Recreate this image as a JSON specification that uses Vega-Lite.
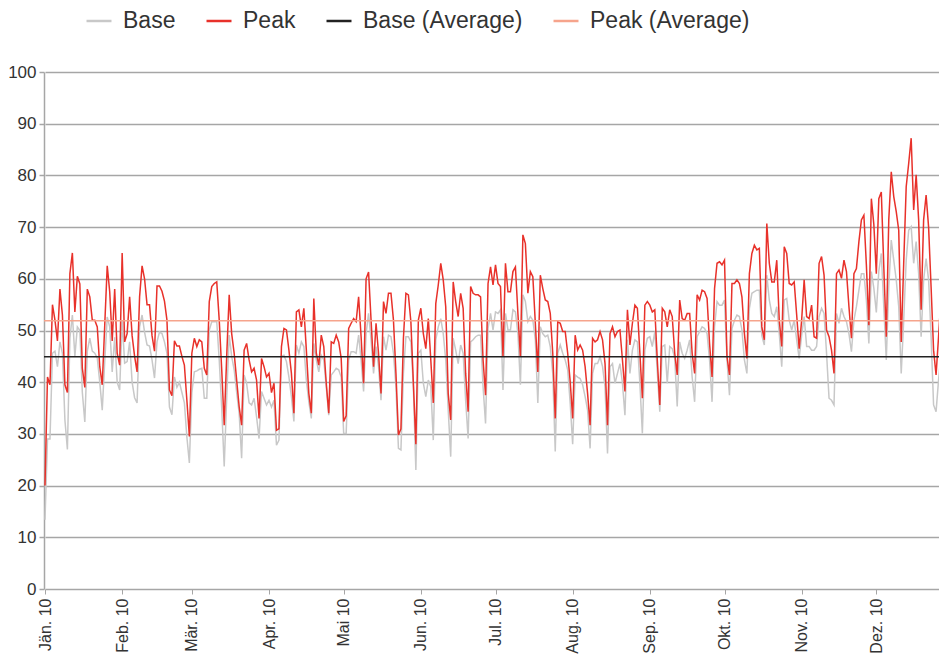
{
"$schema": "https://vega.github.io/schema/vega-lite/v6.json",
"autosize": "none",
"width": 895,
"height": 517,
"padding": {"left": 44, "top": 72, "right": 0, "bottom": 73},
"background": "white",
"config": {"view": {"stroke": null}, "font": "Liberation Sans"},
"data": {"values": [
{"date":"2010-01-01","Base":13.4,"Peak":20},{"date":"2010-01-02","Base":29,"Peak":41},{"date":"2010-01-03","Base":29,"Peak":39.5},{"date":"2010-01-04","Base":45.6,"Peak":55},{"date":"2010-01-05","Base":46,"Peak":52},{"date":"2010-01-06","Base":43,"Peak":48},{"date":"2010-01-07","Base":47.8,"Peak":58},{"date":"2010-01-08","Base":45.6,"Peak":53},{"date":"2010-01-09","Base":32.7,"Peak":39.5},{"date":"2010-01-10","Base":27,"Peak":38},
{"date":"2010-01-11","Base":48.5,"Peak":61},{"date":"2010-01-12","Base":53,"Peak":65},{"date":"2010-01-13","Base":45,"Peak":53.6},{"date":"2010-01-14","Base":50.7,"Peak":60.5},{"date":"2010-01-15","Base":50,"Peak":59},{"date":"2010-01-16","Base":38,"Peak":42.7},{"date":"2010-01-17","Base":32.3,"Peak":39},{"date":"2010-01-18","Base":46,"Peak":58},{"date":"2010-01-19","Base":48.5,"Peak":56.5},{"date":"2010-01-20","Base":46,"Peak":52},
{"date":"2010-01-21","Base":45.6,"Peak":52},{"date":"2010-01-22","Base":44.7,"Peak":50.7},{"date":"2010-01-23","Base":40,"Peak":43},{"date":"2010-01-24","Base":34.6,"Peak":39.5},{"date":"2010-01-25","Base":44,"Peak":51},{"date":"2010-01-26","Base":52.6,"Peak":62.5},{"date":"2010-01-27","Base":50.7,"Peak":57.5},{"date":"2010-01-28","Base":42,"Peak":48},{"date":"2010-01-29","Base":48.7,"Peak":58},{"date":"2010-01-30","Base":40,"Peak":45.6},{"date":"2010-01-31","Base":38.5,"Peak":43.3},
{"date":"2010-02-01","Base":52,"Peak":65},{"date":"2010-02-02","Base":43.7,"Peak":47.8},{"date":"2010-02-03","Base":44,"Peak":49.4},{"date":"2010-02-04","Base":47.8,"Peak":56.5},{"date":"2010-02-05","Base":40,"Peak":49},{"date":"2010-02-06","Base":37,"Peak":45},{"date":"2010-02-07","Base":36,"Peak":42},{"date":"2010-02-08","Base":50.7,"Peak":56.5},{"date":"2010-02-09","Base":53,"Peak":62.5},{"date":"2010-02-10","Base":49.7,"Peak":60},
{"date":"2010-02-11","Base":47.2,"Peak":55},{"date":"2010-02-12","Base":47,"Peak":55},{"date":"2010-02-13","Base":44.3,"Peak":49},{"date":"2010-02-14","Base":40.8,"Peak":46},{"date":"2010-02-15","Base":47.8,"Peak":58.6},{"date":"2010-02-16","Base":49.7,"Peak":58.6},{"date":"2010-02-17","Base":49.4,"Peak":57.6},{"date":"2010-02-18","Base":47.8,"Peak":55.7},{"date":"2010-02-19","Base":45.6,"Peak":52},{"date":"2010-02-20","Base":35.2,"Peak":38.5},
{"date":"2010-02-21","Base":33.7,"Peak":37.4},{"date":"2010-02-22","Base":41,"Peak":48},{"date":"2010-02-23","Base":39,"Peak":47},{"date":"2010-02-24","Base":40,"Peak":47},{"date":"2010-02-25","Base":38,"Peak":45},{"date":"2010-02-26","Base":36,"Peak":43.3},{"date":"2010-02-27","Base":29.4,"Peak":36.5},{"date":"2010-02-28","Base":24.4,"Peak":29.5},
{"date":"2010-03-01","Base":38,"Peak":45.6},{"date":"2010-03-02","Base":42,"Peak":48.5},{"date":"2010-03-03","Base":42.2,"Peak":46.9},{"date":"2010-03-04","Base":42.5,"Peak":48.2},{"date":"2010-03-05","Base":42.7,"Peak":47.8},{"date":"2010-03-06","Base":36.9,"Peak":42.7},{"date":"2010-03-07","Base":36.9,"Peak":41.4},{"date":"2010-03-08","Base":50.1,"Peak":55.6},{"date":"2010-03-09","Base":51.7,"Peak":58.5},{"date":"2010-03-10","Base":51.7,"Peak":59.1},
{"date":"2010-03-11","Base":51.7,"Peak":59.4},{"date":"2010-03-12","Base":44.3,"Peak":52},{"date":"2010-03-13","Base":35,"Peak":42.4},{"date":"2010-03-14","Base":23.7,"Peak":31.7},{"date":"2010-03-15","Base":37,"Peak":45},{"date":"2010-03-16","Base":49.1,"Peak":56.9},{"date":"2010-03-17","Base":45,"Peak":49.4},{"date":"2010-03-18","Base":42.4,"Peak":45.6},{"date":"2010-03-19","Base":38,"Peak":40.4},{"date":"2010-03-20","Base":34,"Peak":35.3},
{"date":"2010-03-21","Base":25.3,"Peak":31.7},{"date":"2010-03-22","Base":41.4,"Peak":46.2},{"date":"2010-03-23","Base":39.8,"Peak":47.5},{"date":"2010-03-24","Base":36,"Peak":44.3},{"date":"2010-03-25","Base":35.6,"Peak":42},{"date":"2010-03-26","Base":36.9,"Peak":42.7},{"date":"2010-03-27","Base":33.3,"Peak":40.4},{"date":"2010-03-28","Base":29.1,"Peak":33},{"date":"2010-03-29","Base":38.2,"Peak":44.6},{"date":"2010-03-30","Base":36.9,"Peak":43},{"date":"2010-03-31","Base":35.6,"Peak":41},
{"date":"2010-04-01","Base":36.5,"Peak":41.7},{"date":"2010-04-02","Base":35.2,"Peak":38},{"date":"2010-04-03","Base":36.5,"Peak":39.8},{"date":"2010-04-04","Base":27.8,"Peak":30.7},{"date":"2010-04-05","Base":28.8,"Peak":31},{"date":"2010-04-06","Base":45,"Peak":46.9},{"date":"2010-04-07","Base":45.2,"Peak":50.4},{"date":"2010-04-08","Base":44,"Peak":50.1},{"date":"2010-04-09","Base":41,"Peak":46.2},{"date":"2010-04-10","Base":37.2,"Peak":41.7},
{"date":"2010-04-11","Base":32.4,"Peak":34},{"date":"2010-04-12","Base":47.2,"Peak":53.6},{"date":"2010-04-13","Base":45.6,"Peak":54},{"date":"2010-04-14","Base":47.8,"Peak":50.7},{"date":"2010-04-15","Base":46.9,"Peak":54.3},{"date":"2010-04-16","Base":40.4,"Peak":46.2},{"date":"2010-04-17","Base":36.2,"Peak":37.8},{"date":"2010-04-18","Base":33,"Peak":34},{"date":"2010-04-19","Base":47.5,"Peak":56.2},{"date":"2010-04-20","Base":44.3,"Peak":45.6},
{"date":"2010-04-21","Base":42,"Peak":43.3},{"date":"2010-04-22","Base":45.2,"Peak":49.1},{"date":"2010-04-23","Base":44.3,"Peak":46.9},{"date":"2010-04-24","Base":39.1,"Peak":39.8},{"date":"2010-04-25","Base":33.6,"Peak":34},{"date":"2010-04-26","Base":41.4,"Peak":47.8},{"date":"2010-04-27","Base":42,"Peak":47.5},{"date":"2010-04-28","Base":42.7,"Peak":49.1},{"date":"2010-04-29","Base":42.4,"Peak":47.8},{"date":"2010-04-30","Base":41,"Peak":44.6},
{"date":"2010-05-01","Base":30.1,"Peak":32.4},{"date":"2010-05-02","Base":30.1,"Peak":33.5},{"date":"2010-05-03","Base":44.3,"Peak":50.4},{"date":"2010-05-04","Base":45.9,"Peak":51.4},{"date":"2010-05-05","Base":45.9,"Peak":52.3},{"date":"2010-05-06","Base":45.6,"Peak":51.7},{"date":"2010-05-07","Base":49.1,"Peak":56.5},{"date":"2010-05-08","Base":44.3,"Peak":48.8},{"date":"2010-05-09","Base":38.2,"Peak":39.8},{"date":"2010-05-10","Base":49.4,"Peak":60},
{"date":"2010-05-11","Base":53.3,"Peak":61.3},{"date":"2010-05-12","Base":48.2,"Peak":52},{"date":"2010-05-13","Base":41.7,"Peak":43},{"date":"2010-05-14","Base":46.9,"Peak":51.4},{"date":"2010-05-15","Base":43,"Peak":45.6},{"date":"2010-05-16","Base":36.5,"Peak":37.8},{"date":"2010-05-17","Base":48.8,"Peak":55.6},{"date":"2010-05-18","Base":46.2,"Peak":53.3},{"date":"2010-05-19","Base":49.1,"Peak":57.2},{"date":"2010-05-20","Base":48.8,"Peak":57.2},
{"date":"2010-05-21","Base":45.6,"Peak":52},{"date":"2010-05-22","Base":39.1,"Peak":41.7},{"date":"2010-05-23","Base":27.2,"Peak":29.8},{"date":"2010-05-24","Base":26.9,"Peak":31},{"date":"2010-05-25","Base":41.7,"Peak":48.5},{"date":"2010-05-26","Base":48.8,"Peak":57.2},{"date":"2010-05-27","Base":48.8,"Peak":56.9},{"date":"2010-05-28","Base":47.8,"Peak":51.7},{"date":"2010-05-29","Base":39.1,"Peak":39.8},{"date":"2010-05-30","Base":23,"Peak":28},{"date":"2010-05-31","Base":45.6,"Peak":52},
{"date":"2010-06-01","Base":46.2,"Peak":54.3},{"date":"2010-06-02","Base":39.8,"Peak":49.4},{"date":"2010-06-03","Base":37.2,"Peak":46.5},{"date":"2010-06-04","Base":40.4,"Peak":52.3},{"date":"2010-06-05","Base":39.1,"Peak":44.3},{"date":"2010-06-06","Base":28.8,"Peak":36},{"date":"2010-06-07","Base":48.2,"Peak":55.2},{"date":"2010-06-08","Base":50.7,"Peak":58.8},{"date":"2010-06-09","Base":52.3,"Peak":63},{"date":"2010-06-10","Base":49.4,"Peak":59.8},
{"date":"2010-06-11","Base":44.3,"Peak":54.6},{"date":"2010-06-12","Base":34.6,"Peak":37.8},{"date":"2010-06-13","Base":25.6,"Peak":32.7},{"date":"2010-06-14","Base":48.5,"Peak":59.4},{"date":"2010-06-15","Base":46.2,"Peak":55.6},{"date":"2010-06-16","Base":43.6,"Peak":52.7},{"date":"2010-06-17","Base":47.2,"Peak":57.2},{"date":"2010-06-18","Base":45.6,"Peak":54.3},{"date":"2010-06-19","Base":36.5,"Peak":41.7},{"date":"2010-06-20","Base":29.1,"Peak":34.3},
{"date":"2010-06-21","Base":47.8,"Peak":58.5},{"date":"2010-06-22","Base":48.2,"Peak":57.2},{"date":"2010-06-23","Base":48.8,"Peak":56.9},{"date":"2010-06-24","Base":49.1,"Peak":56.9},{"date":"2010-06-25","Base":49.1,"Peak":56.5},{"date":"2010-06-26","Base":39.1,"Peak":44.3},{"date":"2010-06-27","Base":32,"Peak":37.5},{"date":"2010-06-28","Base":50.4,"Peak":59.1},{"date":"2010-06-29","Base":53.3,"Peak":62.3},{"date":"2010-06-30","Base":50.1,"Peak":58.8},
{"date":"2010-07-01","Base":53.6,"Peak":62.7},{"date":"2010-07-02","Base":53.3,"Peak":59.1},{"date":"2010-07-03","Base":54,"Peak":58.5},{"date":"2010-07-04","Base":38.5,"Peak":44.9},{"date":"2010-07-05","Base":53.3,"Peak":63},{"date":"2010-07-06","Base":50.1,"Peak":57.5},{"date":"2010-07-07","Base":50.1,"Peak":57.5},{"date":"2010-07-08","Base":54,"Peak":61.4},{"date":"2010-07-09","Base":53.6,"Peak":62.3},{"date":"2010-07-10","Base":49.4,"Peak":53.3},
{"date":"2010-07-11","Base":39.5,"Peak":44.9},{"date":"2010-07-12","Base":56.9,"Peak":68.5},{"date":"2010-07-13","Base":55.6,"Peak":66.8},{"date":"2010-07-14","Base":51.7,"Peak":57.2},{"date":"2010-07-15","Base":52.7,"Peak":61.4},{"date":"2010-07-16","Base":52,"Peak":60.4},{"date":"2010-07-17","Base":48.2,"Peak":51.4},{"date":"2010-07-18","Base":36,"Peak":42},{"date":"2010-07-19","Base":50.7,"Peak":60.7},{"date":"2010-07-20","Base":49.4,"Peak":58.1},
{"date":"2010-07-21","Base":48.8,"Peak":55.9},{"date":"2010-07-22","Base":49.1,"Peak":55.6},{"date":"2010-07-23","Base":46.9,"Peak":53.3},{"date":"2010-07-24","Base":41.7,"Peak":45.6},{"date":"2010-07-25","Base":26.6,"Peak":33},{"date":"2010-07-26","Base":45.6,"Peak":51.7},{"date":"2010-07-27","Base":47.2,"Peak":51.4},{"date":"2010-07-28","Base":45.6,"Peak":49.8},{"date":"2010-07-29","Base":44.3,"Peak":49.8},{"date":"2010-07-30","Base":42.4,"Peak":45.6},{"date":"2010-07-31","Base":36,"Peak":40.1},
{"date":"2010-08-01","Base":28,"Peak":33},{"date":"2010-08-02","Base":41.4,"Peak":49.1},{"date":"2010-08-03","Base":41,"Peak":46.2},{"date":"2010-08-04","Base":40.7,"Peak":47.2},{"date":"2010-08-05","Base":39.5,"Peak":46.2},{"date":"2010-08-06","Base":37.2,"Peak":43},{"date":"2010-08-07","Base":34.6,"Peak":37.8},{"date":"2010-08-08","Base":27.2,"Peak":31.7},{"date":"2010-08-09","Base":41.7,"Peak":48.5},{"date":"2010-08-10","Base":43.6,"Peak":47.8},
{"date":"2010-08-11","Base":43.6,"Peak":48.2},{"date":"2010-08-12","Base":44.9,"Peak":49.8},{"date":"2010-08-13","Base":43,"Peak":48.2},{"date":"2010-08-14","Base":39.1,"Peak":43.6},{"date":"2010-08-15","Base":26.2,"Peak":31.7},{"date":"2010-08-16","Base":43,"Peak":49.4},{"date":"2010-08-17","Base":43.6,"Peak":50.7},{"date":"2010-08-18","Base":39.8,"Peak":48.8},{"date":"2010-08-19","Base":41.7,"Peak":49.8},{"date":"2010-08-20","Base":43.6,"Peak":50.1},
{"date":"2010-08-21","Base":39.8,"Peak":44.3},{"date":"2010-08-22","Base":33.6,"Peak":38.2},{"date":"2010-08-23","Base":48.2,"Peak":54},{"date":"2010-08-24","Base":41.7,"Peak":47.2},{"date":"2010-08-25","Base":46.2,"Peak":51.4},{"date":"2010-08-26","Base":48.2,"Peak":54.9},{"date":"2010-08-27","Base":47.8,"Peak":54.3},{"date":"2010-08-28","Base":39.8,"Peak":45.6},{"date":"2010-08-29","Base":30.1,"Peak":36.9},{"date":"2010-08-30","Base":46.2,"Peak":54.9},{"date":"2010-08-31","Base":48.5,"Peak":55.6},
{"date":"2010-09-01","Base":48.8,"Peak":54.9},{"date":"2010-09-02","Base":46.9,"Peak":53.6},{"date":"2010-09-03","Base":49.8,"Peak":54},{"date":"2010-09-04","Base":42,"Peak":44.3},{"date":"2010-09-05","Base":34.3,"Peak":35.6},{"date":"2010-09-06","Base":46.9,"Peak":54.3},{"date":"2010-09-07","Base":47.2,"Peak":53.6},{"date":"2010-09-08","Base":39.8,"Peak":50.7},{"date":"2010-09-09","Base":46.9,"Peak":54},{"date":"2010-09-10","Base":46.5,"Peak":52.7},
{"date":"2010-09-11","Base":44.6,"Peak":45.6},{"date":"2010-09-12","Base":35.3,"Peak":41.4},{"date":"2010-09-13","Base":47.8,"Peak":55.9},{"date":"2010-09-14","Base":45.6,"Peak":52.3},{"date":"2010-09-15","Base":44.6,"Peak":52},{"date":"2010-09-16","Base":46.2,"Peak":53.3},{"date":"2010-09-17","Base":48.2,"Peak":53.3},{"date":"2010-09-18","Base":41,"Peak":45.6},{"date":"2010-09-19","Base":36.2,"Peak":41.7},{"date":"2010-09-20","Base":48.8,"Peak":56.9},
{"date":"2010-09-21","Base":49.8,"Peak":55.9},{"date":"2010-09-22","Base":50.7,"Peak":57.8},{"date":"2010-09-23","Base":50.4,"Peak":57.5},{"date":"2010-09-24","Base":49.4,"Peak":56.2},{"date":"2010-09-25","Base":44.3,"Peak":47.5},{"date":"2010-09-26","Base":36.2,"Peak":41},{"date":"2010-09-27","Base":50.7,"Peak":58.1},{"date":"2010-09-28","Base":55.6,"Peak":63},{"date":"2010-09-29","Base":54.9,"Peak":63.3},{"date":"2010-09-30","Base":54.9,"Peak":62.7},
{"date":"2010-10-01","Base":55.9,"Peak":63.6},{"date":"2010-10-02","Base":44.3,"Peak":45},{"date":"2010-10-03","Base":37.5,"Peak":41.4},{"date":"2010-10-04","Base":50.4,"Peak":59.1},{"date":"2010-10-05","Base":52,"Peak":59.1},{"date":"2010-10-06","Base":53,"Peak":59.8},{"date":"2010-10-07","Base":52.7,"Peak":59.1},{"date":"2010-10-08","Base":50.1,"Peak":56.5},{"date":"2010-10-09","Base":44.3,"Peak":49.4},{"date":"2010-10-10","Base":41.7,"Peak":44.6},
{"date":"2010-10-11","Base":54.3,"Peak":61},{"date":"2010-10-12","Base":57.2,"Peak":64.9},{"date":"2010-10-13","Base":57.5,"Peak":66.5},{"date":"2010-10-14","Base":57.8,"Peak":65.6},{"date":"2010-10-15","Base":57.8,"Peak":65.9},{"date":"2010-10-16","Base":49,"Peak":50.7},{"date":"2010-10-17","Base":47.2,"Peak":48.2},{"date":"2010-10-18","Base":60.7,"Peak":70.7},{"date":"2010-10-19","Base":55.9,"Peak":63},{"date":"2010-10-20","Base":53.3,"Peak":59.4},
{"date":"2010-10-21","Base":52.7,"Peak":59.4},{"date":"2010-10-22","Base":54.6,"Peak":63.6},{"date":"2010-10-23","Base":49.4,"Peak":52},{"date":"2010-10-24","Base":43,"Peak":46.9},{"date":"2010-10-25","Base":55.9,"Peak":66.2},{"date":"2010-10-26","Base":56.2,"Peak":64.9},{"date":"2010-10-27","Base":52,"Peak":59.1},{"date":"2010-10-28","Base":50.1,"Peak":58.8},{"date":"2010-10-29","Base":52,"Peak":59.4},{"date":"2010-10-30","Base":48.2,"Peak":53},{"date":"2010-10-31","Base":44.6,"Peak":46.5},
{"date":"2010-11-01","Base":49.1,"Peak":52},{"date":"2010-11-02","Base":52.7,"Peak":59.8},{"date":"2010-11-03","Base":46.9,"Peak":52.7},{"date":"2010-11-04","Base":46.9,"Peak":52.3},{"date":"2010-11-05","Base":46.2,"Peak":54.9},{"date":"2010-11-06","Base":46.2,"Peak":48.8},{"date":"2010-11-07","Base":46.9,"Peak":48.5},{"date":"2010-11-08","Base":52.7,"Peak":63},{"date":"2010-11-09","Base":54.3,"Peak":64.3},{"date":"2010-11-10","Base":53.3,"Peak":60.7},
{"date":"2010-11-11","Base":45.6,"Peak":50.1},{"date":"2010-11-12","Base":36.9,"Peak":48.8},{"date":"2010-11-13","Base":36.5,"Peak":46.2},{"date":"2010-11-14","Base":35.6,"Peak":41.7},{"date":"2010-11-15","Base":53.3,"Peak":61},{"date":"2010-11-16","Base":51.4,"Peak":61.7},{"date":"2010-11-17","Base":54.3,"Peak":60.1},{"date":"2010-11-18","Base":52.7,"Peak":63.6},{"date":"2010-11-19","Base":51.7,"Peak":61.4},{"date":"2010-11-20","Base":49.4,"Peak":54.6},
{"date":"2010-11-21","Base":45.9,"Peak":48.5},{"date":"2010-11-22","Base":52,"Peak":61},{"date":"2010-11-23","Base":54.6,"Peak":62},{"date":"2010-11-24","Base":57.8,"Peak":67.2},{"date":"2010-11-25","Base":61,"Peak":71.4},{"date":"2010-11-26","Base":61,"Peak":72.3},{"date":"2010-11-27","Base":55.9,"Peak":62.7},{"date":"2010-11-28","Base":47.5,"Peak":51},{"date":"2010-11-29","Base":61.4,"Peak":75.5},{"date":"2010-11-30","Base":58.2,"Peak":70.5},
{"date":"2010-12-01","Base":53.5,"Peak":61},{"date":"2010-12-02","Base":61.5,"Peak":75.5},{"date":"2010-12-03","Base":64.9,"Peak":76.8},{"date":"2010-12-04","Base":54.6,"Peak":62.3},{"date":"2010-12-05","Base":44.3,"Peak":48.8},{"date":"2010-12-06","Base":58.4,"Peak":71.4},{"date":"2010-12-07","Base":67.5,"Peak":80.7},{"date":"2010-12-08","Base":63.6,"Peak":75.9},{"date":"2010-12-09","Base":59.8,"Peak":73},{"date":"2010-12-10","Base":54.6,"Peak":69.4},
{"date":"2010-12-11","Base":41.7,"Peak":47.8},{"date":"2010-12-12","Base":52,"Peak":63},{"date":"2010-12-13","Base":63.6,"Peak":77.8},{"date":"2010-12-14","Base":69.4,"Peak":82.3},{"date":"2010-12-15","Base":70.1,"Peak":87.2},{"date":"2010-12-16","Base":63,"Peak":73.3},{"date":"2010-12-17","Base":67.2,"Peak":80.1},{"date":"2010-12-18","Base":61,"Peak":71.4},{"date":"2010-12-19","Base":48.8,"Peak":54},{"date":"2010-12-20","Base":59.8,"Peak":71.4},
{"date":"2010-12-21","Base":63.9,"Peak":76.2},{"date":"2010-12-22","Base":59.8,"Peak":70},{"date":"2010-12-23","Base":48.8,"Peak":58.4},{"date":"2010-12-24","Base":35.6,"Peak":46.2},{"date":"2010-12-25","Base":34.3,"Peak":41.4},{"date":"2010-12-26","Base":40.4,"Peak":48.8},{"date":"2010-12-27","Base":45.6,"Peak":56.5}
]},
"layer": [
{
"mark": {"type": "line", "strokeWidth": 1.5, "clip": true},
"encoding": {
"x": {"field": "date", "type": "temporal", "title": null,
"scale": {"type": "utc", "domain": [{"year": 2010, "month": 1, "date": 1, "utc": true}, {"year": 2010, "month": 12, "date": 31, "utc": true}], "range": [1, 907]},
"axis": {"domain": false, "grid": false, "tickCount": {"interval": "month", "step": 1},
"labelExpr": "['Jän. 10','Feb. 10','Mär. 10','Apr. 10','Mai 10','Jun. 10','Jul. 10','Aug. 10','Sep. 10','Okt. 10','Nov. 10','Dez. 10'][utcmonth(datum.value)]",
"labelAngle": 270, "labelFontSize": 16, "labelColor": "#333333", "labelPadding": 4, "tickSize": 5, "tickColor": "#a6a6a6", "tickWidth": 1, "labelFlush": false, "labelOverlap": false, "labelBound": false}},
"y": {"field": "Base", "type": "quantitative", "title": null,
"scale": {"domain": [0, 100], "nice": false},
"axis": {"values": [0,10,20,30,40,50,60,70,80,90,100], "grid": true, "gridColor": "#a6a6a6", "gridWidth": 1.5, "domain": true, "domainColor": "#a6a6a6", "domainWidth": 1.5, "tickSize": 5, "tickColor": "#a6a6a6", "tickWidth": 1.5, "labelFontSize": 17, "labelColor": "#333333", "labelPadding": 3}},
"color": {"datum": "Base", "type": "nominal", "title": null,
"scale": {"domain": ["Base", "Peak", "Base (Average)", "Peak (Average)"], "range": ["#c8c8c8", "#e8312a", "#222222", "#f6a48c"]},
"legend": {"orient": "none", "legendX": 41, "legendY": -65, "direction": "horizontal", "title": null, "symbolType": "stroke", "symbolSize": 625, "symbolStrokeWidth": 2.5, "labelFontSize": 23, "labelColor": "#333333", "labelOffset": 10, "columnPadding": 25}}
}
},
{
"mark": {"type": "line", "strokeWidth": 1.5, "clip": true},
"encoding": {
"x": {"field": "date", "type": "temporal", "title": null},
"y": {"field": "Peak", "type": "quantitative", "title": null},
"color": {"datum": "Peak", "type": "nominal", "title": null}
}
},
{
"data": {"values": [{"series": "Base (Average)", "v": 44.9}, {"series": "Peak (Average)", "v": 51.9}]},
"mark": {"type": "rule", "strokeWidth": 1.5},
"encoding": {
"y": {"field": "v", "type": "quantitative", "title": null},
"color": {"field": "series", "type": "nominal", "title": null}
}
}
]
}
